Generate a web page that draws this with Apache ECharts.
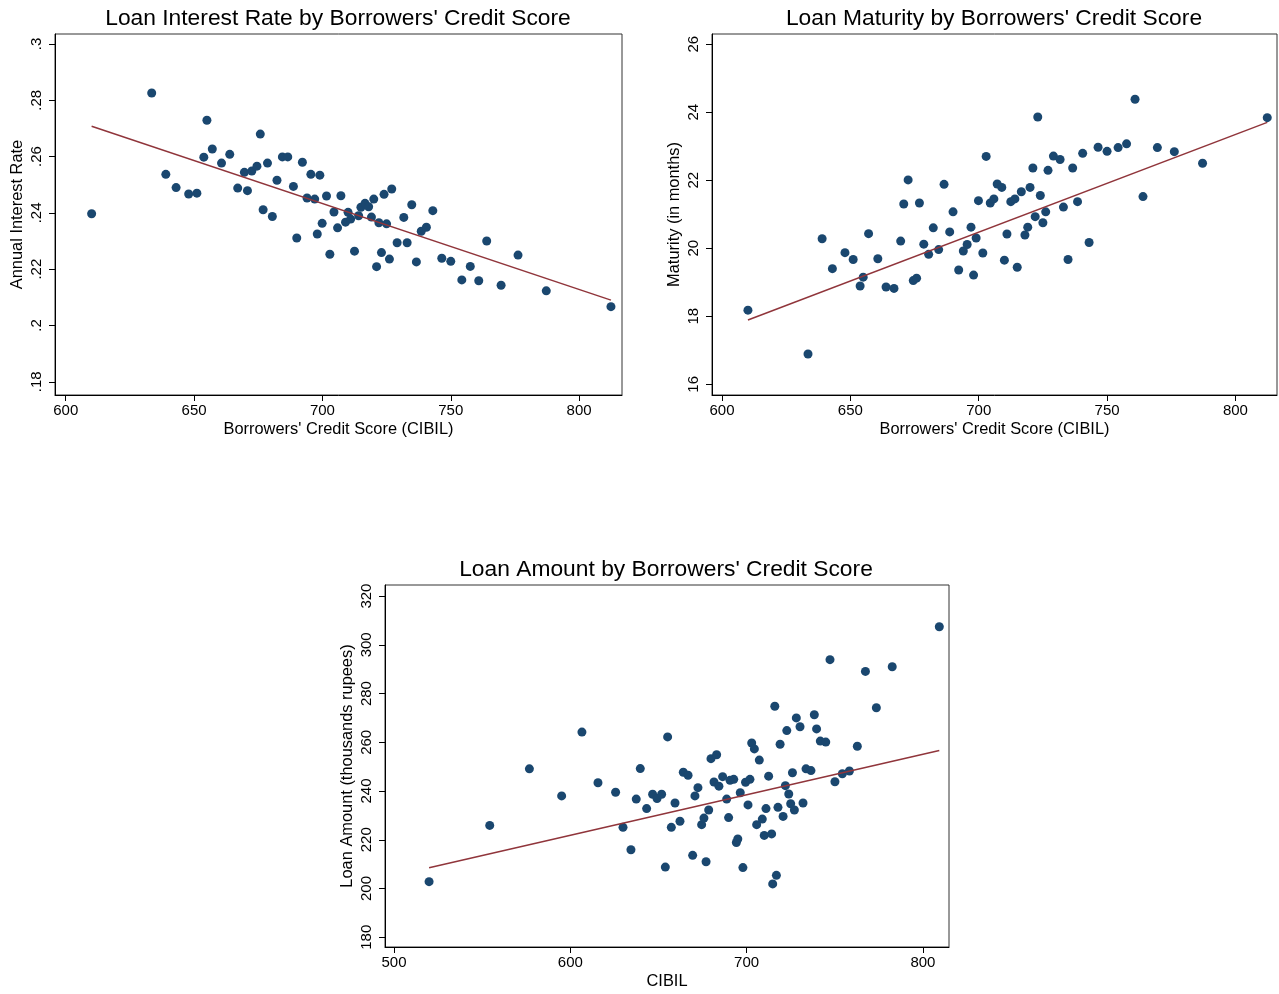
<!DOCTYPE html>
<html>
<head>
<meta charset="utf-8">
<script src="https://cdn.jsdelivr.net/npm/echarts@6/dist/echarts.min.js"></script>
<style>
  html, body { margin: 0; padding: 0; background: #fff; }
  #chart { width: 1279px; height: 994px; }
</style>
</head>
<body>
<div id="chart"></div>
<script>
// ---- Data ----
// Panels 1 and 2 share the same CIBIL bins
const cibil = [610.1, 633.5, 639.0, 643.0, 647.9, 651.1, 653.8, 655.0, 657.1, 660.7,
  663.9, 667.0, 669.6, 670.8, 672.5, 674.5, 675.8, 676.9, 678.6, 680.5,
  682.3, 684.4, 686.5, 688.7, 690.0, 692.2, 694.0, 695.5, 697.0, 698.0,
  699.0, 699.9, 701.6, 702.9, 704.5, 705.9, 707.2, 709.0, 710.0, 711.0,
  712.5, 714.1, 715.0, 716.6, 718.0, 719.1, 720.0, 721.1, 722.0, 723.0,
  724.0, 725.0, 726.1, 727.0, 729.1, 731.7, 733.0, 734.8, 736.6, 738.5,
  740.5, 743.0, 746.5, 750.0, 754.3, 757.6, 760.9, 764.0, 769.6, 776.2,
  787.2, 812.4];

const interestRate = [0.2397, 0.2826, 0.2537, 0.2490, 0.2467, 0.2470, 0.2598, 0.2729, 0.2627, 0.2577,
  0.2608, 0.2488, 0.2544, 0.2479, 0.2549, 0.2566, 0.2680, 0.2411, 0.2577, 0.2387,
  0.2516, 0.2599, 0.2599, 0.2494, 0.2311, 0.2580, 0.2453, 0.2537, 0.2449, 0.2325,
  0.2534, 0.2363, 0.2460, 0.2253, 0.2403, 0.2347, 0.2461, 0.2367, 0.2402, 0.2378,
  0.2264, 0.2390, 0.2420, 0.2434, 0.2422, 0.2385, 0.2449, 0.2209, 0.2365, 0.2259,
  0.2466, 0.2361, 0.2236, 0.2485, 0.2294, 0.2384, 0.2294, 0.2429, 0.2226, 0.2335,
  0.2349, 0.2408, 0.2239, 0.2228, 0.2162, 0.2210, 0.2159, 0.2300, 0.2143, 0.2250,
  0.2123, 0.2067];

const maturity = [18.18, 16.89, 20.28, 19.40, 19.87, 19.67, 18.89, 19.15, 20.43, 19.69,
  18.86, 18.82, 20.21, 21.30, 22.01, 19.05, 19.12, 21.33, 20.12, 19.82,
  20.60, 19.96, 21.88, 20.48, 21.07, 19.36, 19.92, 20.11, 20.62, 19.21,
  20.30, 21.40, 19.86, 22.70, 21.33, 21.45, 21.89, 21.79, 19.65, 20.42,
  21.37, 21.45, 19.44, 21.66, 20.39, 20.62, 21.79, 22.36, 20.93, 23.86,
  21.55, 20.75, 21.07, 22.29, 22.71, 22.61, 21.21, 19.67, 22.36, 21.37,
  22.79, 20.17, 22.97, 22.85, 22.96, 23.07, 24.38, 21.52, 22.96, 22.84,
  22.50, 23.84];

// Panel 3
const cibil3 = [519.9, 554.3, 576.8, 595.1, 606.6, 615.7, 625.7, 629.9, 634.4, 637.4,
  639.7, 643.3, 646.7, 649.2, 651.8, 653.9, 655.2, 657.3, 659.4, 662.2,
  664.1, 666.8, 669.4, 670.7, 672.4, 674.5, 675.8, 677.0, 678.5, 679.8,
  681.5, 683.0, 684.3, 686.4, 688.7, 689.8, 690.6, 692.7, 694.2, 695.0,
  696.4, 697.9, 699.4, 700.8, 701.9, 702.9, 704.4, 705.7, 707.2, 708.9,
  710.0, 711.0, 712.5, 714.2, 714.8, 716.0, 716.9, 717.8, 719.0, 720.7,
  722.0, 722.8, 723.9, 725.0, 726.0, 727.1, 728.2, 730.3, 732.0, 733.7,
  736.5, 738.4, 739.7, 741.8, 744.9, 747.3, 750.1, 754.3, 758.3, 762.8,
  767.4, 773.6, 782.6, 809.3];

const loanAmount = [202.8, 225.9, 249.1, 238.0, 264.2, 243.4, 239.5, 225.1, 215.9, 236.7,
  249.2, 232.8, 238.7, 236.9, 238.7, 208.8, 262.2, 225.1, 235.1, 227.6,
  247.7, 246.5, 213.6, 238.0, 241.4, 226.2, 228.9, 211.0, 232.2, 253.3,
  243.7, 254.9, 242.0, 245.9, 236.7, 229.1, 244.4, 244.8, 218.9, 220.3,
  239.3, 208.6, 243.6, 234.3, 244.8, 259.7, 257.3, 226.2, 252.7, 228.5,
  221.8, 232.8, 246.1, 222.4, 201.9, 274.8, 205.4, 233.3, 259.2, 229.6,
  242.2, 264.8, 238.8, 234.8, 247.5, 232.2, 270.0, 266.4, 235.1, 249.1,
  248.4, 271.3, 265.5, 260.5, 260.1, 293.9, 243.8, 247.1, 248.2, 258.4,
  289.1, 274.2, 291.0, 307.4];

// Fitted-line values at the ends of each x range (fit on underlying data)
const fitRateEnds = [0.2708, 0.2090];
const fitMaturityEnds = [17.89, 23.70];
const fitAmountEnds = [208.5, 256.6];

// Tick values and labels
const xTicks12 = [600, 650, 700, 750, 800];
const xTicks3 = [500, 600, 700, 800];
const yTicksRate = [0.18, 0.20, 0.22, 0.24, 0.26, 0.28, 0.30];
const yLabelsRate = ['.18', '.2', '.22', '.24', '.26', '.28', '.3'];
const yTicksMat = [16, 18, 20, 22, 24, 26];
const yTicksAmt = [180, 200, 220, 240, 260, 280, 300, 320];

// ---- Helpers ----
function pairs(xs, ys) { return xs.map((x, i) => [x, ys[i]]); }
function fitLine(xs, ends) {
  return [[Math.min(...xs), ends[0]], [Math.max(...xs), ends[1]]];
}

const FONT = '"Liberation Sans", Arial, Helvetica, sans-serif';
const MARKER = '#1a476f';
const FIT = '#90353b';

function xAxis(grid, min, max, ticks, name) {
  return {
    type: 'value', gridIndex: grid, min: min, max: max,
    name: name, nameLocation: 'middle', nameGap: 26,
    nameTextStyle: { fontFamily: FONT, fontSize: 16.4, color: '#000' },
    axisLine: { show: true, onZero: false, lineStyle: { color: '#000', width: 1 } },
    axisTick: { show: true, length: 6, customValues: ticks, lineStyle: { color: '#000', width: 1 } },
    axisLabel: { customValues: ticks, fontFamily: FONT, fontSize: 15, color: '#000', margin: 8 },
    splitLine: { show: false }
  };
}
function yAxis(grid, min, max, ticks, name, fmt) {
  return {
    type: 'value', gridIndex: grid, min: min, max: max,
    name: name, nameLocation: 'middle', nameGap: 30, nameRotate: 90,
    nameTextStyle: { fontFamily: FONT, fontSize: 16.4, color: '#000' },
    axisLine: { show: true, onZero: false, lineStyle: { color: '#000', width: 1 } },
    axisTick: { show: true, length: 6, customValues: ticks, lineStyle: { color: '#000', width: 1 } },
    axisLabel: { customValues: ticks, rotate: 90, fontFamily: FONT, fontSize: 15, color: '#000', margin: 11,
      formatter: fmt || (v => String(v)) },
    splitLine: { show: false }
  };
}
function scatter(grid, data) {
  return { type: 'scatter', xAxisIndex: grid, yAxisIndex: grid, data: data,
    symbol: 'circle', symbolSize: 9, itemStyle: { color: MARKER, opacity: 1 }, z: 2, silent: true };
}
function fit(grid, data) {
  return { type: 'line', xAxisIndex: grid, yAxisIndex: grid, data: data,
    showSymbol: false, symbol: 'none', lineStyle: { color: FIT, width: 1.5 }, z: 3, silent: true };
}

const titleStyle = { fontFamily: FONT, fontSize: 22.8, fontWeight: 'normal', color: '#000' };
const gridStyle = { show: true, borderColor: '#333', borderWidth: 1, backgroundColor: '#fff', containLabel: false };

const option = {
  backgroundColor: '#fff',
  animation: false,
  title: [
    { text: "Loan Interest Rate by Borrowers' Credit Score", left: 333, top: 2, textAlign: 'center', textStyle: titleStyle },
    { text: "Loan Maturity by Borrowers' Credit Score", left: 989, top: 2, textAlign: 'center', textStyle: titleStyle },
    { text: "Loan Amount by Borrowers' Credit Score", left: 661, top: 553, textAlign: 'center', textStyle: titleStyle }
  ],
  grid: [
    Object.assign({ left: 55, top: 34, width: 567, height: 361 }, gridStyle),
    Object.assign({ left: 712, top: 34, width: 565, height: 361 }, gridStyle),
    Object.assign({ left: 385, top: 585, width: 564, height: 362 }, gridStyle)
  ],
  xAxis: [
    xAxis(0, 595.83, 816.7, xTicks12, "Borrowers' Credit Score (CIBIL)"),
    xAxis(1, 596.1, 816.2, xTicks12, "Borrowers' Credit Score (CIBIL)"),
    xAxis(2, 494.9, 814.8, xTicks3, 'CIBIL')
  ],
  yAxis: [
    yAxis(0, 0.17531, 0.30355, yTicksRate, 'Annual Interest Rate',
      v => { const i = yTicksRate.findIndex(t => Math.abs(t - v) < 1e-9); return i >= 0 ? yLabelsRate[i] : ''; }),
    yAxis(1, 15.685, 26.30, yTicksMat, 'Maturity (in months)'),
    yAxis(2, 176.0, 324.55, yTicksAmt, 'Loan Amount (thousands rupees)')
  ],
  series: [
    scatter(0, pairs(cibil, interestRate)),
    fit(0, fitLine(cibil, fitRateEnds)),
    scatter(1, pairs(cibil, maturity)),
    fit(1, fitLine(cibil, fitMaturityEnds)),
    scatter(2, pairs(cibil3, loanAmount)),
    fit(2, fitLine(cibil3, fitAmountEnds))
  ]
};

const chart = echarts.init(document.getElementById('chart'), null, { renderer: 'canvas' });
chart.setOption(option);
</script>
</body>
</html>
